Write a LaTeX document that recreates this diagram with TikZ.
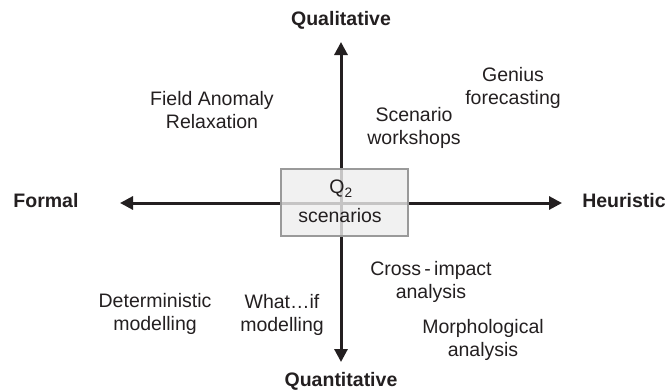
\documentclass[tikz,border=0pt]{standalone}
\usepackage{fontspec}
\setmainfont{Liberation Sans}
\usetikzlibrary{arrows.meta}
\definecolor{ink}{HTML}{231F20}
\definecolor{boxfill}{HTML}{EEEEEE}
\definecolor{boxline}{HTML}{9A9A9A}
\begin{document}
\begin{tikzpicture}[x=1pt,y=-1pt,
  every node/.style={text=ink,font=\fontsize{19.5}{23.5}\selectfont,inner sep=0pt},
  axislabel/.style={font=\fontsize{19.5}{23.5}\selectfont\bfseries},
  method/.style={align=center},
  axis/.style={draw=ink,line width=3pt,{Triangle[length=13pt,width=13pt]}-{Triangle[length=13pt,width=13pt]}},
  quadbox/.style={draw=boxline,line width=1.2pt,fill=boxfill,fill opacity=0.8,text opacity=1,minimum width=127pt,minimum height=67pt}]
\useasboundingbox (0,0) rectangle (671,391);
% axis end points
\coordinate (N) at (341,42);
\coordinate (S) at (341,362);
\coordinate (W) at (120,203);
\coordinate (E) at (562,203);
\draw[axis] (N) -- (S);
\draw[axis] (W) -- (E);
% central box
\node[quadbox] (q2) at (344.5,202.5) {};
\node (q2a) at (341,189) {Q\textsubscript{2}};
\node (q2b) at (340,216) {scenarios};
% axis labels
\node[axislabel] (qual) at (341,20) {Qualitative};
\node[axislabel] (quant) at (341,381) {Quantitative};
\node[axislabel] (formal) at (46,201) {Formal};
\node[axislabel] (heur) at (624,201) {Heuristic};
% methods
\node[method] (far) at (212,110) {Field Anomaly\\Relaxation};
\node[method] (genius) at (513,88) {Genius\\forecasting};
\node[method] (scen) at (414,128) {Scenario\\workshops};
\node[method] (cross) at (431,282) {Cross\,-\,impact\\analysis};
\node[method] (det) at (155,314) {Deterministic\\modelling};
\node[method] (whatif) at (282,315) {What\ldots if\\modelling};
\node[method] (morph) at (483,340) {Morphological\\analysis};
\end{tikzpicture}
\end{document}
